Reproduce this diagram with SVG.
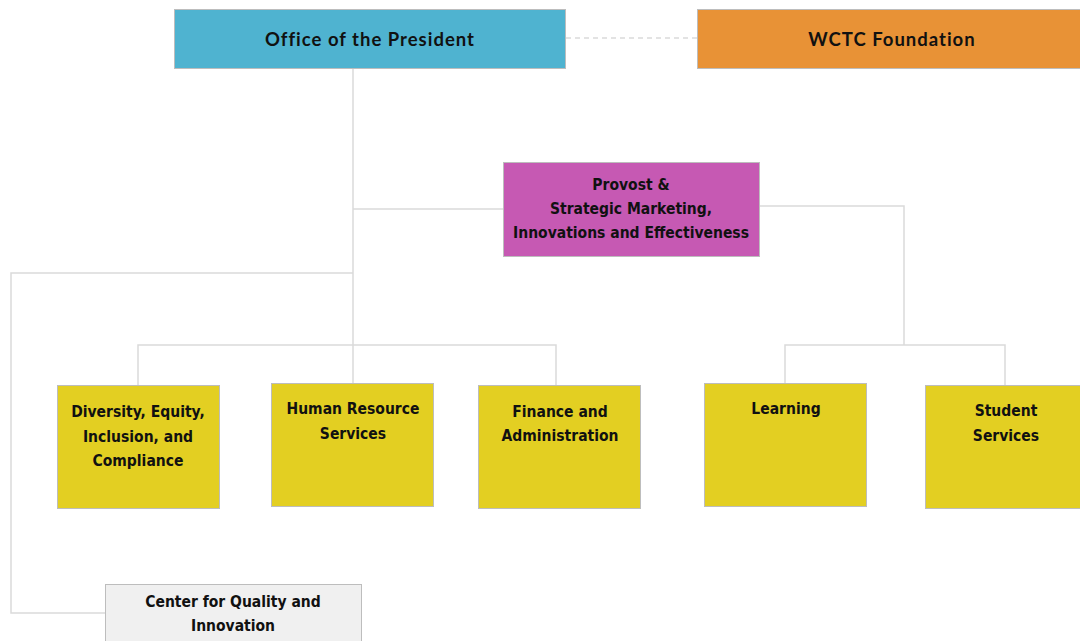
<svg xmlns="http://www.w3.org/2000/svg" width="1080" height="641" viewBox="0 0 1080 641">
<style>
.box{stroke:#BDBDBD;stroke-width:1}
.t{font-family:"DejaVu Sans Condensed","DejaVu Sans",sans-serif;font-weight:bold;font-size:15.5px;fill:#111;text-anchor:middle;dominant-baseline:central}
.tw{font-family:Lato,"DejaVu Sans",sans-serif;font-weight:bold;font-size:18.5px;letter-spacing:1px;fill:#111;text-anchor:middle;dominant-baseline:central}
.c{fill:none;stroke:#DADADA;stroke-width:1.5}
</style>
<rect width="1080" height="641" fill="#fff"/>
<g id="connectors">
<line class="c" x1="566" y1="38" x2="697" y2="38" stroke-dasharray="5,4"/>
<polyline class="c" points="353,68 353,385"/>
<polyline class="c" points="353,209 503,209"/>
<polyline class="c" points="353,273 11,273 11,613 105,613"/>
<polyline class="c" points="138,385 138,345 556,345 556,385"/>
<polyline class="c" points="760,206 904,206 904,345"/>
<polyline class="c" points="785,383 785,345 1005,345 1005,385"/>
</g>
<g id="president"><rect class="box" x="174.5" y="9.5" width="391" height="59" fill="#4FB3D0"/><text class="tw" x="370" y="39">Office of the President</text></g>
<g id="foundation"><rect class="box" x="697.5" y="9.5" width="390" height="59" fill="#E89236"/><text class="tw" x="892" y="39">WCTC Foundation</text></g>
<g id="provost"><rect class="box" x="503.5" y="162.5" width="256" height="94" fill="#C659B3"/>
<text class="t" x="631" y="185">Provost &amp;</text><text class="t" x="631" y="209">Strategic Marketing,</text><text class="t" x="631" y="233">Innovations and Effectiveness</text></g>
<g id="diversity"><rect class="box" x="57.5" y="385.5" width="162" height="123" fill="#E3CF22"/>
<text class="t" x="138" y="412">Diversity, Equity,</text><text class="t" x="138" y="437">Inclusion, and</text><text class="t" x="138" y="461">Compliance</text></g>
<g id="hr"><rect class="box" x="271.5" y="383.5" width="162" height="123" fill="#E3CF22"/>
<text class="t" x="353" y="409">Human Resource</text><text class="t" x="353" y="434">Services</text></g>
<g id="finance"><rect class="box" x="478.5" y="385.5" width="162" height="123" fill="#E3CF22"/>
<text class="t" x="560" y="412">Finance and</text><text class="t" x="560" y="436">Administration</text></g>
<g id="learning"><rect class="box" x="704.5" y="383.5" width="162" height="123" fill="#E3CF22"/>
<text class="t" x="786" y="409">Learning</text></g>
<g id="student"><rect class="box" x="925.5" y="385.5" width="162" height="123" fill="#E3CF22"/>
<text class="t" x="1006" y="411">Student</text><text class="t" x="1006" y="436">Services</text></g>
<g id="center"><rect class="box" x="105.5" y="584.5" width="256" height="70" fill="#F0F0F0"/>
<text class="t" x="233" y="602">Center for Quality and</text><text class="t" x="233" y="626">Innovation</text></g>
</svg>
